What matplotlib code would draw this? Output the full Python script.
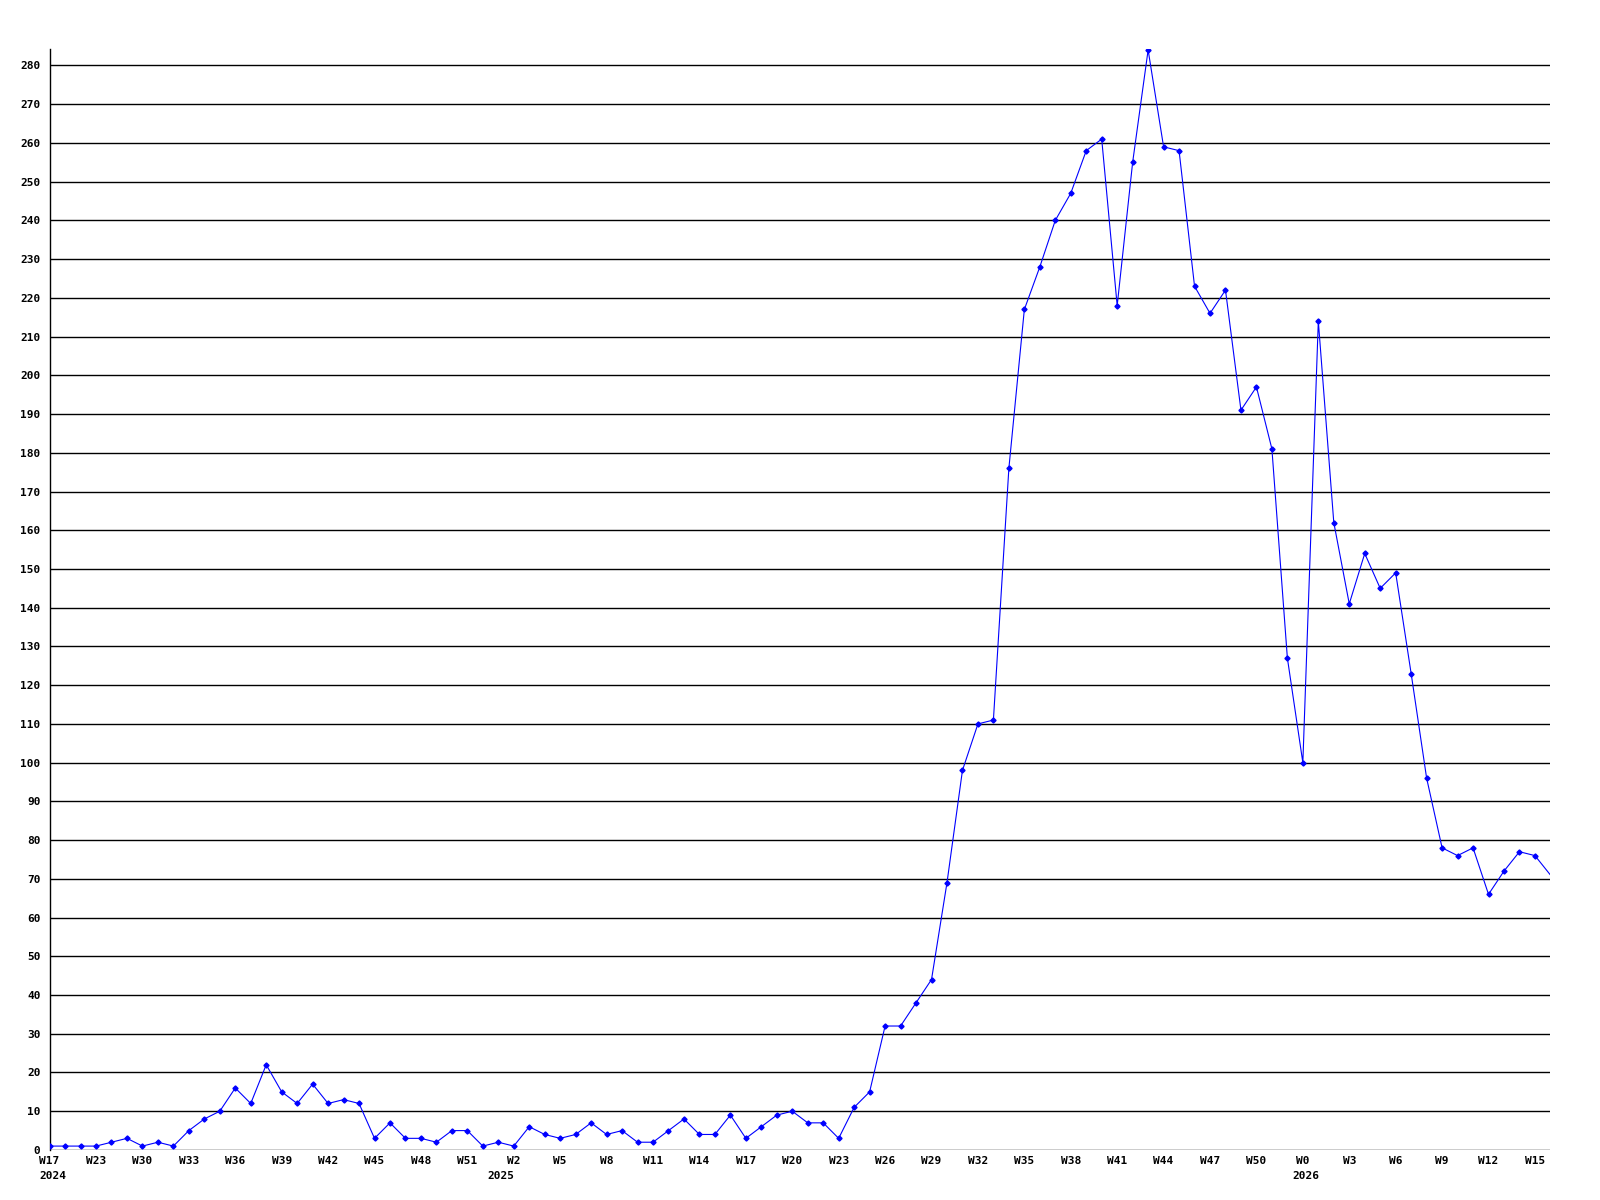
import matplotlib
matplotlib.use("Agg")
import matplotlib.pyplot as plt
import matplotlib.transforms as mtransforms

# weekly counts, one value per point
counts = [
    1, 1, 1, 1, 2, 3, 1, 2, 1, 5,
    8, 10, 16, 12, 22, 15, 12, 17, 12, 13,
    12, 3, 7, 3, 3, 2, 5, 5, 1, 2,
    1, 6, 4, 3, 4, 7, 4, 5, 2, 2,
    5, 8, 4, 4, 9, 3, 6, 9, 10, 7,
    7, 3, 11, 15, 32, 32, 38, 44, 69, 98,
    110, 111, 176, 217, 228, 240, 247, 258, 261, 218,
    255, 284, 259, 258, 223, 216, 222, 191, 197, 181,
    127, 100, 214, 162, 141, 154, 145, 149, 123, 96,
    78, 76, 78, 66, 72, 77, 76, 71,
]

# every third point carries a week label
week_labels = [
    "W17", "W23", "W30", "W33", "W36", "W39", "W42", "W45", "W48", "W51",
    "W2", "W5", "W8", "W11", "W14", "W17", "W20", "W23", "W26", "W29",
    "W32", "W35", "W38", "W41", "W44", "W47", "W50", "W0", "W3", "W6",
    "W9", "W12", "W15",
]
# year label -> index of the first week of that year
year_labels = {0: "2024", 29: "2025", 81: "2026"}

FS = 8
font = {"family": "DejaVu Sans Mono", "weight": "bold", "size": FS}

fig = plt.figure(figsize=(16, 12), dpi=100)
ax = fig.add_axes([0.031, 0.0417, 0.938, 0.9173])

x = list(range(len(counts)))
ax.plot(x, counts, color="#0000ff", lw=0.8, marker="D", ms=2.6,
        markevery=list(range(len(counts) - 1)), zorder=3)

ax.set_xlim(0, len(counts) - 1)
ax.set_ylim(0, 284.2)

# y axis
ax.set_yticks(range(0, 281, 10))
ax.set_yticklabels([str(v) for v in range(0, 281, 10)], fontdict=font)
ax.yaxis.grid(True, color="black", lw=1.0)
ax.set_axisbelow(True)

# x axis
tick_pos = list(range(0, len(counts), 3))[:len(week_labels)]
ax.set_xticks(tick_pos)
ax.set_xticklabels(week_labels, fontdict=font)
ax.tick_params(axis="both", length=0)
ax.tick_params(axis="y", pad=6.5)
ax.tick_params(axis="x", pad=4)

trans = mtransforms.blended_transform_factory(ax.transData, ax.transAxes)
for pos, year in year_labels.items():
    shift = mtransforms.offset_copy(trans, fig=fig, x=-7.7, y=-15.5, units="points")
    ax.text(pos, 0, year, transform=shift, ha="left", va="top", **font)

for side in ["top", "right", "bottom"]:
    ax.spines[side].set_visible(False)
ax.spines["left"].set_linewidth(1.0)

fig.savefig("out.png", dpi=100)
